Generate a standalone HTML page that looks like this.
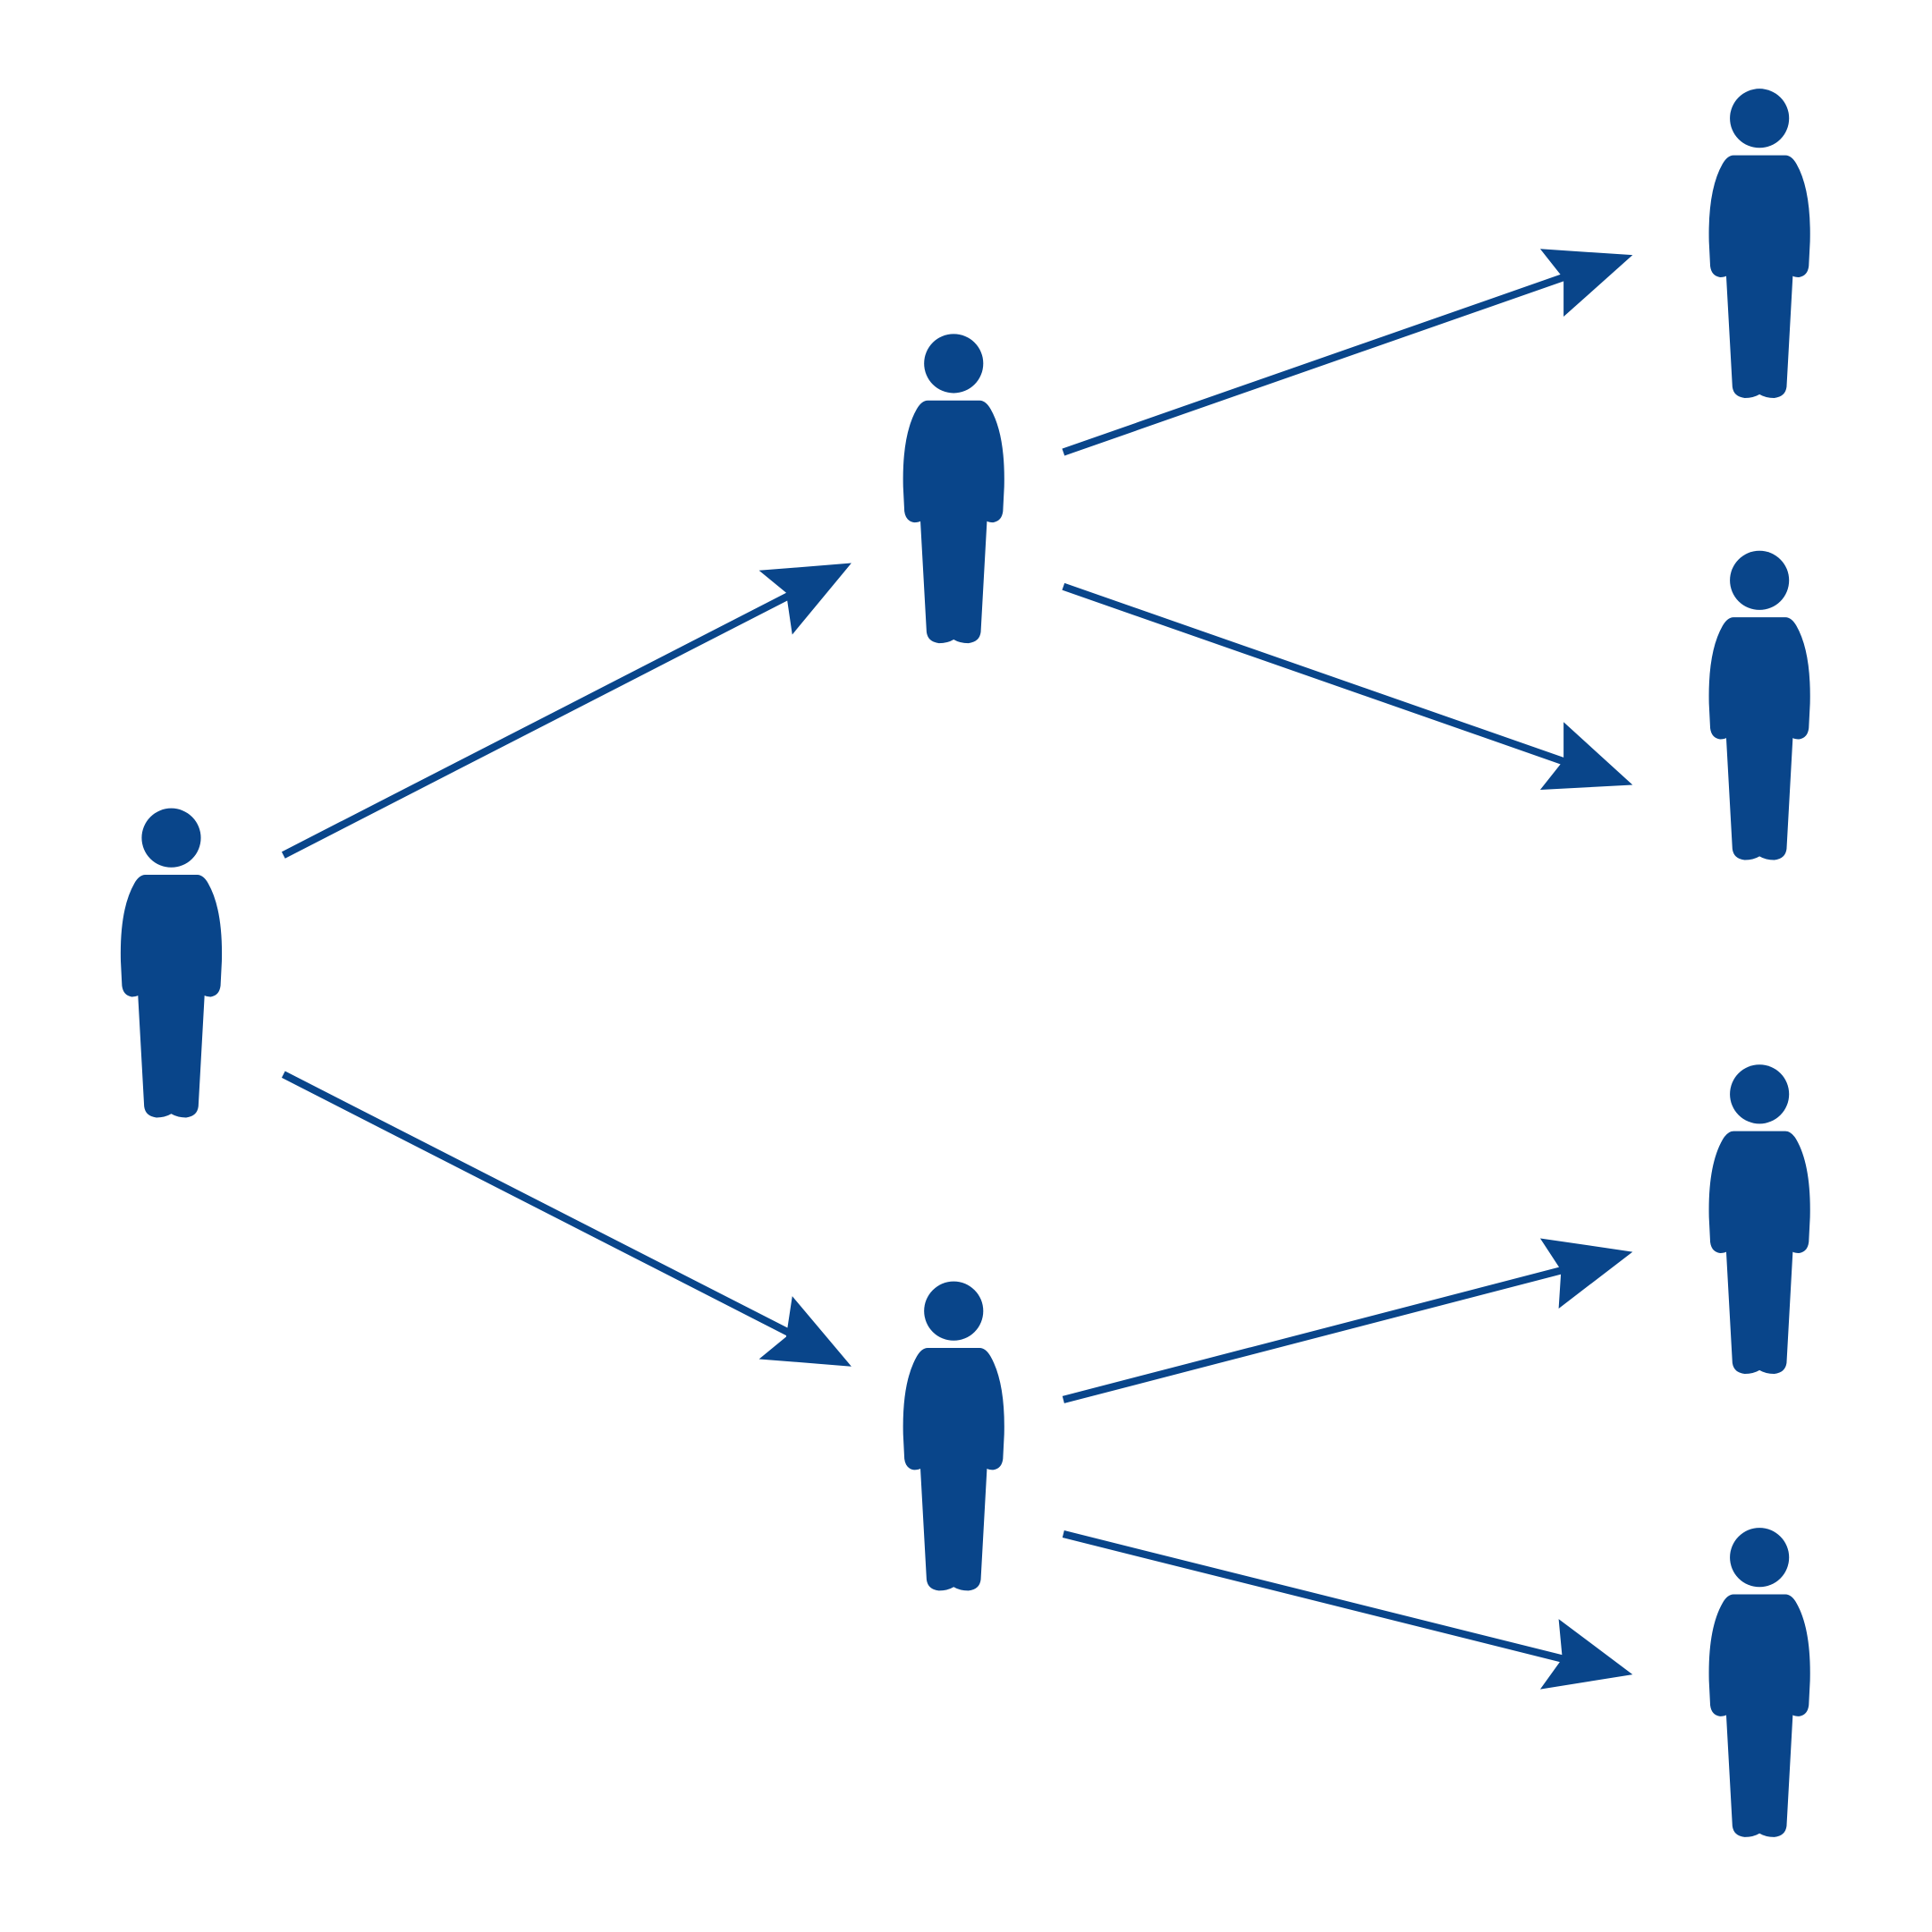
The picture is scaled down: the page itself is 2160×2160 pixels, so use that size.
<!DOCTYPE html>
<html><head><meta charset="utf-8"><style>
html,body{margin:0;padding:0;background:#fff;}
svg{display:block;}
</style></head><body>
<svg width="2160" height="2160" viewBox="0 0 1568 1568" xmlns="http://www.w3.org/2000/svg">
<defs>
<g id="p" fill="#09458a">
<circle cx="0" cy="0" r="24"/>
<path d="M -21,30 L 21,30 Q 26,30 30,37 Q 42,58 41,100 L 40,120 Q 39,128 32,129 Q 29,129 27,128 L 22,218 Q 21,226 12,227 Q 5,227 0,224 Q -5,227 -12,227 Q -21,226 -22,218 L -27,128 Q -29,129 -32,129 Q -39,128 -40,120 L -41,100 Q -42,58 -30,37 Q -26,30 -21,30 Z"/>
</g>
</defs>
<use href="#p" x="139" y="680"/>
<use href="#p" x="774" y="295"/>
<use href="#p" x="774" y="1064"/>
<use href="#p" x="1428" y="96"/>
<use href="#p" x="1428" y="471"/>
<use href="#p" x="1428" y="888"/>
<use href="#p" x="1428" y="1264"/>
<g stroke="#09458a" stroke-width="6" fill="none">
<line x1="230" y1="694" x2="645" y2="481"/>
<line x1="230" y1="872" x2="645" y2="1084"/>
<line x1="863" y1="367" x2="1272" y2="224"/>
<line x1="863" y1="476" x2="1272" y2="619"/>
<line x1="863" y1="1136" x2="1275" y2="1029"/>
<line x1="863" y1="1245" x2="1275" y2="1348"/>
</g>
<g fill="#09458a">
<polygon points="691,457 616,463 638,481 643,515"/>
<polygon points="691,1109 616,1103 638,1085 643,1052"/>
<polygon points="1325,207 1250,202 1269,226 1269,257"/>
<polygon points="1325,637 1250,641 1269,617 1269,586"/>
<polygon points="1325,1016 1250,1005 1267,1031 1265,1062"/>
<polygon points="1325,1359 1250,1371 1268,1346 1265,1314"/>
</g>
</svg>
</body></html>
